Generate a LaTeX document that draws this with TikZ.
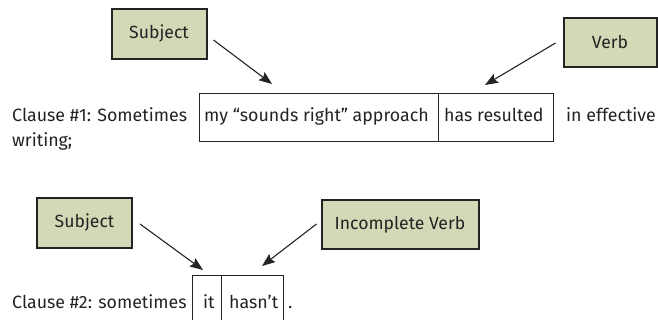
\documentclass[tikz,border=0pt]{standalone}
\usepackage{fontspec}
\setmainfont{Fira Sans}
\usetikzlibrary{arrows.meta}
\definecolor{boxfill}{RGB}{211,216,182}
\definecolor{ink}{RGB}{35,35,35}
\begin{document}
\begin{tikzpicture}[x=1pt,y=1pt,
  label box/.style={draw=ink, line width=2pt, fill=boxfill, inner sep=0pt, font=\fontsize{17.6}{20}\selectfont, text=ink},
  txt/.style={anchor=base west, inner sep=0pt, font=\fontsize{17.8}{20}\selectfont, text=ink},
  frame/.style={draw=ink, line width=0.9pt},
  pointer/.style={draw=ink, line width=1.1pt, -{Stealth[length=13pt,width=10pt,inset=2pt]}}]
\useasboundingbox (0,0) rectangle (658,-320);
\begin{scope}
\clip (0,0) rectangle (658,-320);
% label boxes
\node[label box, minimum width=95pt, minimum height=50pt] (subj1) at (159,-34) {Subject};
\node[label box, minimum width=93pt, minimum height=49pt] (verb1) at (610,-42.5) {Verb};
\node[label box, minimum width=95pt, minimum height=50pt] (subj2) at (84.5,-223) {Subject};
\node[label box, minimum width=157pt, minimum height=49pt] (verb2) at (400,-224.5) {Incomplete Verb};
% clause 1
\node[txt] (c1) at (12,-122) {Clause \#1: Sometimes};
\draw[frame] (199,-93) rectangle (553,-141);
\draw[frame] (438,-93) -- (438,-141);
\node[txt] (c1a) at (204,-122) {my “sounds right” approach};
\node[txt] (c1b) at (444,-122) {has resulted};
\node[txt] (c1c) at (566,-122) {in effective};
\node[txt] (c1d) at (12,-147) {writing;};
\coordinate (t1) at (272,-84);
\coordinate (t2) at (485,-85);
% clause 2
\node[txt] (c2) at (12,-308) {Clause \#2: sometimes};
\draw[frame] (192,-325) -- (192,-275) -- (283,-275) -- (283,-325);
\draw[frame] (221,-275) -- (221,-325);
\node[txt] (c2a) at (203,-308) {it};
\node[txt] (c2b) at (229,-308) {hasn’t};
\node[txt] (c2c) at (288,-308) {.};
\coordinate (t3) at (203,-270);
\coordinate (t4) at (262,-266);
% arrows
\draw[pointer] ([xshift=6pt,yshift=-6pt]subj1.east) -- (t1);
\draw[pointer] ([xshift=-7pt,yshift=-0.5pt]verb1.west) -- (t2);
\draw[pointer] ([xshift=7pt,yshift=-1pt]subj2.east) -- (t3);
\draw[pointer] ([xshift=-4pt,yshift=0.5pt]verb2.west) -- (t4);
\end{scope}
\end{tikzpicture}
\end{document}
